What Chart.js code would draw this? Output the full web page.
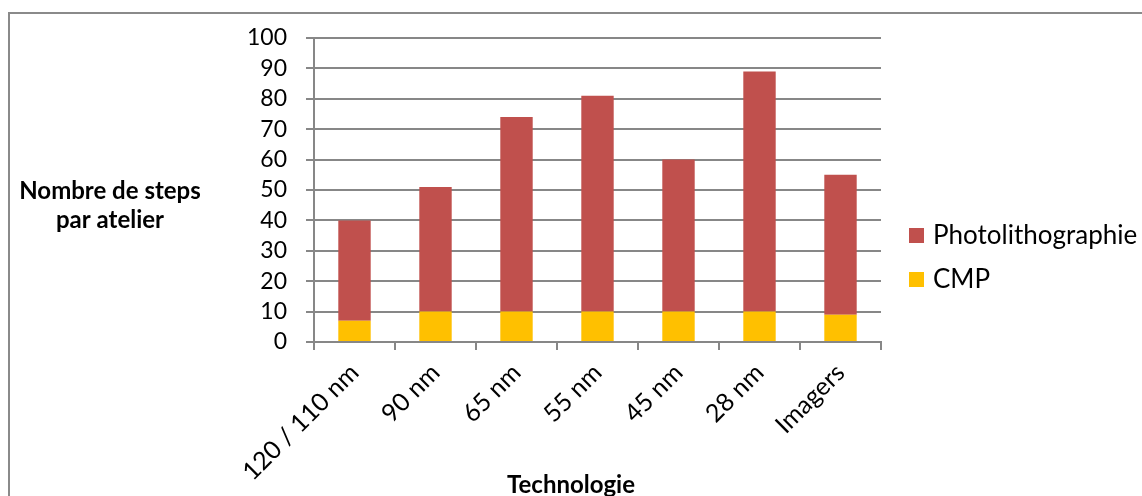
<!DOCTYPE html>
<html><head><meta charset="utf-8">
<script src="https://cdn.jsdelivr.net/npm/chart.js@4/dist/chart.umd.min.js"></script>
<style>html,body{margin:0;padding:0;background:#fff;}#wrap{position:relative;width:1142px;height:496px;}</style>
</head><body><div id="wrap"><canvas id="c" width="1142" height="496"></canvas></div>
<script>
const categories = ['120 / 110 nm', '90 nm', '65 nm', '55 nm', '45 nm', '28 nm', 'Imagers'];
const cmpValues = [7, 10, 10, 10, 10, 10, 9];
const photoValues = [33, 41, 64, 71, 50, 79, 46];
const yTickValues = [0, 10, 20, 30, 40, 50, 60, 70, 80, 90, 100];
const seriesNames = ['CMP', 'Photolithographie'];
const xTitle = 'Technologie';
const yTitleLines = ['Nombre de steps', 'par atelier'];

const FONT = 'Lato, "Open Sans", sans-serif';
const GRID = '#878787';
const COLORS = { 'CMP': '#FFC000', 'Photolithographie': '#C0504D' };

const decor = {
  id: 'decor',
  beforeDraw(chart) {
    const ctx = chart.ctx;
    ctx.save();
    ctx.fillStyle = '#fff';
    ctx.fillRect(0, 0, chart.width, chart.height);
    ctx.strokeStyle = '#8a8a8a';
    ctx.lineWidth = 2;
    ctx.beginPath();
    ctx.moveTo(9, chart.height + 5);
    ctx.lineTo(9, 13);
    ctx.lineTo(chart.width + 5, 13);
    ctx.stroke();
    ctx.restore();
  },
  afterDraw(chart) {
    const ctx = chart.ctx;
    ctx.save();
    ctx.fillStyle = '#000';
    ctx.textBaseline = 'middle';
    ctx.font = 'bold 24px ' + FONT;
    ctx.textAlign = 'center';
    ctx.fillText(yTitleLines[0], 110, 191);
    ctx.fillText(yTitleLines[1], 110, 220);
    ctx.fillText(xTitle, 571, 485);
    ctx.font = '26px ' + FONT;
    ctx.textAlign = 'left';
    const legendItems = [seriesNames[1], seriesNames[0]];
    legendItems.forEach((name, i) => {
      const y = 236 + i * 44;
      ctx.fillStyle = COLORS[name];
      ctx.fillRect(909, y - 8, 15, 15);
      ctx.fillStyle = '#000';
      ctx.fillText(name, 933, y);
    });
    ctx.restore();
  }
};

new Chart(document.getElementById('c'), {
  type: 'bar',
  data: {
    labels: categories,
    datasets: [
      { label: seriesNames[0], data: cmpValues, backgroundColor: COLORS['CMP'], borderWidth: 0 },
      { label: seriesNames[1], data: photoValues, backgroundColor: COLORS['Photolithographie'], borderWidth: 0 }
    ]
  },
  options: {
    responsive: false,
    animation: false,
    layout: { padding: { left: 0, right: 261, top: 38, bottom: 0 } },
    datasets: { bar: { categoryPercentage: 1, barPercentage: 0.4 } },
    plugins: { legend: { display: false }, tooltip: { enabled: false } },
    scales: {
      x: {
        stacked: true,
        afterFit(s) { s.height = 154; },
        grid: { offset: true, drawOnChartArea: false, drawTicks: true, tickLength: 8, color: GRID, lineWidth: 2 },
        border: { display: true, color: GRID, width: 2 },
        ticks: { minRotation: 45, maxRotation: 45, autoSkip: false, padding: 8, color: '#000', font: { family: FONT, size: 25 } }
      },
      y: {
        stacked: true,
        min: 0, max: 100,
        afterFit(s) { s.width = 314; },
        afterBuildTicks(s) { s.ticks = yTickValues.map(v => ({ value: v })); },
        grid: { color: GRID, lineWidth: 2, tickLength: 8, drawTicks: true },
        border: { display: true, color: GRID, width: 2 },
        ticks: { autoSkip: false, stepSize: 10, padding: 19, color: '#000', font: { family: FONT, size: 23 } }
      }
    }
  },
  plugins: [decor]
});
</script></body></html>
